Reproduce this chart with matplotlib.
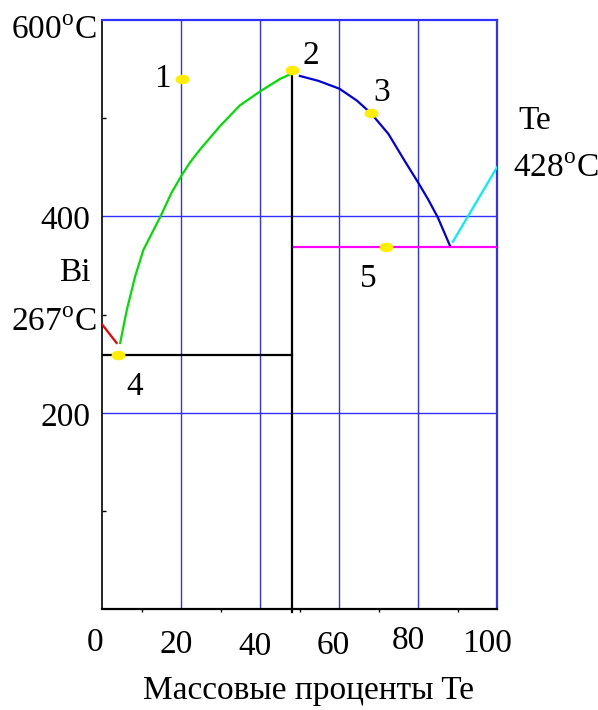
import matplotlib.pyplot as plt
import numpy as np
from matplotlib.path import Path
from matplotlib.transforms import Affine2D

plt.rcParams['font.family'] = ['Liberation Serif', 'DejaVu Serif']
plt.rcParams['mathtext.fontset'] = 'custom'
plt.rcParams['mathtext.rm'] = 'Liberation Serif'

# Bi - Te phase diagram, mass % Te vs temperature
# liquidus, Bi side (green)
liq_bi_x = [4.6, 6.3, 8.4, 10.5, 14.7, 17.6, 20.2, 22.3, 24.8, 29.9, 34.9, 40.3, 45.1, 47.8]
liq_bi_t = [271, 305, 339, 366, 399, 424, 442, 455, 468, 492, 513, 528, 540, 545]
# liquidus, Te side of the compound (blue)
liq_te_x = [50.1, 54.8, 60.1, 64.5, 68.1, 72.5, 76.7, 80.1, 82.6, 85.0, 88.1]
liq_te_t = [543, 538, 530, 518, 505, 484, 456, 434, 417, 399, 370]
# Bi branch (red) and Te branch (cyan)
bi_x = [0, 3.7]
bi_t = [290, 271]
te_x = [88.8, 100]
te_t = [374, 450]

compound_x = 48.2
compound_t = 549
eut1_t = 259    # Bi side eutectic
eut2_t = 369    # Te side eutectic

# special points 1..5
pt_x = [20.2, 48.2, 68.1, 4.1, 72.0]
pt_t = [540, 549, 505, 259, 369]
pt_names = ['1', '2', '3', '4', '5']
pt_lab_x = [15.4, 52.9, 70.9, 8.4, 67.5]
pt_lab_t = [531.6, 555, 517, 218, 327.6]

xticks = [0, 20, 40, 60, 80, 100]
xtick_lab_x = [-1.8, 18.7, 38.7, 58.5, 77.5, 97.5]
xtick_lab_t = [-42.9, -44.9, -46.9, -45.9, -40.8, -43.9]

fig = plt.figure(figsize=(5.98, 7.10), dpi=100)
ax = fig.add_axes([102 / 598, 1 - 609 / 710, 395 / 598, 589 / 710])
ax.set_xlim(0, 100)
ax.set_ylim(0, 600)

grid_c = '#3030ff'
for gx in [20, 40, 60, 80]:
    ax.axvline(gx, color=grid_c, lw=1.0, zorder=1)
for gy in [200, 400]:
    ax.axhline(gy, color=grid_c, lw=1.0, zorder=1)

ax.spines['top'].set_color(grid_c)
ax.spines['right'].set_color(grid_c)
ax.spines['top'].set_linewidth(1.6)
ax.spines['right'].set_linewidth(1.6)
ax.spines['left'].set_linewidth(1.2)
ax.spines['bottom'].set_linewidth(1.6)

ax.set_xticks([10, 30, 50, 70, 90])
ax.set_yticks([100, 300, 500])
ax.tick_params(axis='x', direction='out', length=2, width=1, labelbottom=False)
ax.tick_params(axis='y', direction='in', length=3, width=1, labelleft=False)

lw = 1.6
ax.plot(bi_x, bi_t, color='#ee0000', lw=lw, zorder=3)
ax.plot(liq_bi_x, liq_bi_t, color='#00dd00', lw=lw, zorder=3)
ax.plot(liq_te_x, liq_te_t, color='#0000dd', lw=lw, zorder=3)
ax.plot(te_x, te_t, color='#00eeff', lw=lw, zorder=3)
ax.plot([compound_x, 100], [eut2_t, eut2_t], color='#ff00ff', lw=lw, zorder=3)
ax.plot([0, compound_x], [eut1_t, eut1_t], color='black', lw=lw, zorder=3)
ax.plot([compound_x, compound_x], [compound_t, -3], color='black', lw=lw,
        zorder=3, clip_on=False)

ellipse = Path.unit_circle().transformed(Affine2D().scale(1.45, 1.0))
ax.plot(pt_x, pt_t, ls='none', marker=ellipse, ms=10, mfc='#ffee00',
        mec='none', zorder=4, clip_on=False)

fs = 24
for name, lx, lt in zip(pt_names, pt_lab_x, pt_lab_t):
    ax.text(lx, lt, name, fontsize=fs, ha='center', va='baseline')

for tv, lx, lt in zip(xticks, xtick_lab_x, xtick_lab_t):
    ax.text(lx, lt, str(tv), fontsize=fs, ha='center', va='baseline', clip_on=False)

deg = r'$^{\mathrm{o}}$'
ax.text(-1.3, 580.6, '600' + deg + 'C', fontsize=fs, ha='right', va='baseline')
ax.text(-3.0, 386.7, '400', fontsize=fs, ha='right', va='baseline')
ax.text(-3.0, 186.7, '200', fontsize=fs, ha='right', va='baseline')
ax.text(-3.0, 333.7, 'Bi', fontsize=fs, ha='right', va='baseline')
ax.text(-1.3, 282.7, '267' + deg + 'C', fontsize=fs, ha='right', va='baseline')
ax.text(105.3, 488.8, 'Te', fontsize=fs, ha='left', va='baseline')
ax.text(104.0, 439.8, '428' + deg + 'C', fontsize=fs, ha='left', va='baseline')

ax.text(52.4, -91.8, 'Массовые проценты Te', fontsize=fs, ha='center', va='baseline')

fig.savefig('out.png', dpi=100)
